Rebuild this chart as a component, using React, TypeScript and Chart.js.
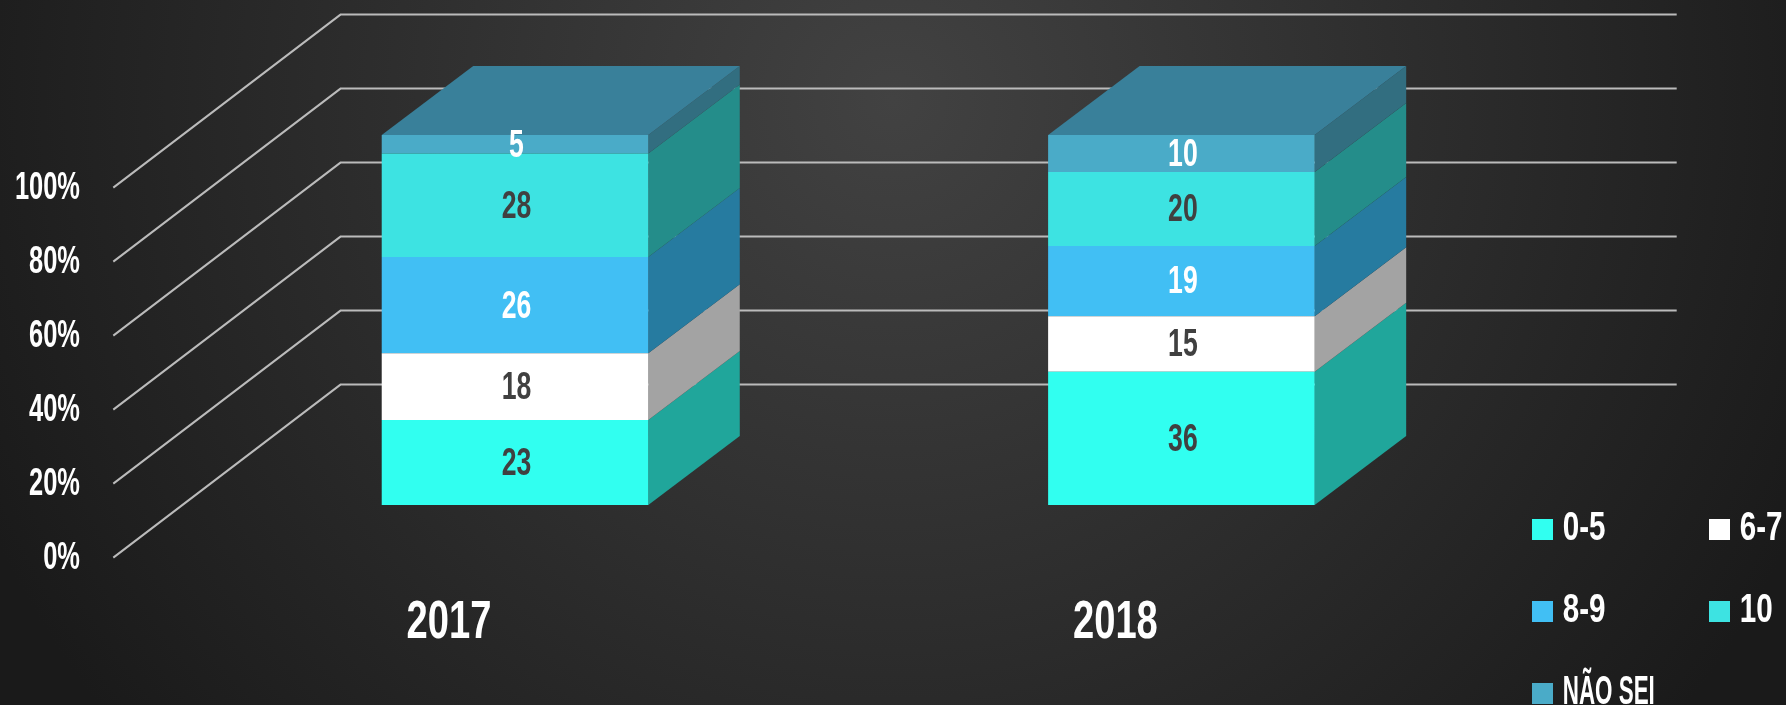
import React, { useEffect, useRef } from "react";
import { Chart, registerables } from "chart.js";

Chart.register(...registerables);

const categories = ["2017", "2018"];
const seriesNames = ["0-5", "6-7", "8-9", "10", "NÃO SEI"];
const values05 = [23, 36];
const values67 = [18, 15];
const values89 = [26, 19];
const values10 = [28, 20];
const valuesNaoSei = [5, 10];
const axisTicks = [0, 20, 40, 60, 80, 100];

const frontColors = ["#31FFF0", "#FFFFFF", "#41BFF4", "#3DE3E2", "#4AABC8"];
const sideColors = ["#20A69B", "#A3A3A3", "#267BA0", "#248D8A", "#326E80"];
const labelColors = ["#404040", "#404040", "#FFFFFF", "#404040", "#FFFFFF"];
const topColor = "#39809A";
const gridColor = "#BBBBBB";
const FONT = '"Liberation Sans", sans-serif';

const W = 1786, H = 705;
const AREA_TOP = 14, AREA_BOTTOM = 557.6, AREA_LEFT = 181.8, AREA_RIGHT = 1514.6;
const PX_PER_UNIT = 3.7;
const BAR_ZERO = 505, WALL_ZERO = 384.4;
const BAR_DX = 91.5, BAR_DY = 69;
const GRID_LEFT = 113.3, GRID_MID = 340.8, GRID_RIGHT = 1676.7;

const legendPos = [
  [1532, 519], [1709, 519],
  [1532, 601], [1709, 601],
  [1532, 683],
];

const poly = (ctx: any, pts: number[][], fill: string) => {
  ctx.beginPath();
  pts.forEach((p, i) => (i ? ctx.lineTo(p[0], p[1]) : ctx.moveTo(p[0], p[1])));
  ctx.closePath();
  ctx.fillStyle = fill;
  ctx.fill();
};

// Draws a condensed bold label: no condensed face is installed, so the glyphs are narrowed.
const narrowText = (
  ctx: any, text: string, x: number, baseline: number,
  size: number, squeeze: number, align: "left" | "right" | "center", color: string,
) => {
  ctx.save();
  ctx.font = `bold ${size}px ${FONT}`;
  ctx.fillStyle = color;
  ctx.textAlign = align;
  ctx.textBaseline = "alphabetic";
  ctx.translate(x, baseline);
  ctx.scale(squeeze, 1);
  ctx.fillText(text, 0, 0);
  ctx.restore();
};

const scene3d = {
  id: "scene3d",
  beforeDatasetsDraw(chart: any) {
    const { ctx, scales } = chart;
    ctx.save();
    ctx.strokeStyle = gridColor;
    ctx.lineWidth = 2;
    ctx.lineJoin = "round";
    axisTicks.forEach((t) => {
      const yf = scales.yFront.getPixelForValue(t);
      const yb = scales.yWall.getPixelForValue(t);
      ctx.beginPath();
      ctx.moveTo(GRID_LEFT, yf);
      ctx.lineTo(GRID_MID, yb);
      ctx.lineTo(GRID_RIGHT, yb);
      ctx.stroke();
    });
    const n = chart.data.datasets.length;
    chart.data.datasets.forEach((_: any, di: number) => {
      chart.getDatasetMeta(di).data.forEach((bar: any) => {
        const r = bar.x + bar.width / 2;
        const l = bar.x - bar.width / 2;
        poly(ctx, [[r, bar.y], [r + BAR_DX, bar.y - BAR_DY], [r + BAR_DX, bar.base - BAR_DY], [r, bar.base]], sideColors[di]);
        if (di === n - 1) {
          poly(ctx, [[l, bar.y], [l + BAR_DX, bar.y - BAR_DY], [r + BAR_DX, bar.y - BAR_DY], [r, bar.y]], topColor);
        }
      });
    });
    ctx.restore();
  },
  afterDatasetsDraw(chart: any) {
    const { ctx, scales } = chart;
    chart.data.datasets.forEach((ds: any, di: number) => {
      chart.getDatasetMeta(di).data.forEach((bar: any, i: number) => {
        narrowText(ctx, String(ds.data[i]), bar.x + 1.5, (bar.y + bar.base) / 2 + 12.3, 38, 0.7, "center", labelColors[di]);
      });
    });
    chart.data.datasets.forEach((ds: any, di: number) => {
      const [x, y] = legendPos[di];
      ctx.fillStyle = frontColors[di];
      ctx.fillRect(x, y, 21, 21);
      const squeeze = ds.label.length > 3 ? 0.56 : 0.74;
      narrowText(ctx, ds.label, x + 30.7, y + 20.5, 40, squeeze, "left", "#FFFFFF");
    });
    scales.yFront.ticks.forEach((tick: any) => {
      narrowText(ctx, tick.label, 80, scales.yFront.getPixelForValue(tick.value) + 11.5, 38, 0.67, "right", "#FFFFFF");
    });
    scales.x.ticks.forEach((tick: any, i: number) => {
      narrowText(ctx, tick.label, scales.x.getPixelForTick(i) - 66, 637.6, 53, 0.72, "center", "#FFFFFF");
    });
  },
};

const seriesValues = [values05, values67, values89, values10, valuesNaoSei];

export default function App() {
  const ref = useRef<HTMLCanvasElement>(null);
  useEffect(() => {
    const height = AREA_BOTTOM - AREA_TOP;
    const chart = new Chart(ref.current as HTMLCanvasElement, {
      type: "bar",
      data: {
        labels: categories,
        datasets: seriesNames.map((label, i) => ({
          label,
          data: seriesValues[i],
          backgroundColor: frontColors[i],
          borderWidth: 0,
          categoryPercentage: 0.5,
          barPercentage: 0.8,
          yAxisID: "y",
        })),
      },
      plugins: [scene3d],
      options: {
        responsive: false,
        animation: false,
        layout: { padding: { top: AREA_TOP, right: W - AREA_RIGHT, left: 0, bottom: 0 } },
        plugins: { legend: { display: false }, title: { display: false }, tooltip: { enabled: false } },
        scales: {
          x: {
            stacked: true,
            grid: { display: false, drawTicks: false },
            border: { display: false },
            afterFit: (s: any) => { s.height = H - AREA_BOTTOM; },
            ticks: { display: false },
          },
          y: {
            stacked: true,
            display: false,
            min: -(AREA_BOTTOM - BAR_ZERO) / PX_PER_UNIT,
            max: (BAR_ZERO - AREA_TOP) / PX_PER_UNIT,
          },
          yWall: {
            display: false,
            min: -(AREA_BOTTOM - WALL_ZERO) / PX_PER_UNIT,
            max: (WALL_ZERO - AREA_TOP) / PX_PER_UNIT,
          },
          yFront: {
            position: "left",
            min: 0,
            max: height / PX_PER_UNIT,
            grid: { display: false, drawTicks: false },
            border: { display: false },
            afterFit: (s: any) => { s.width = AREA_LEFT; },
            afterBuildTicks: (s: any) => { s.ticks = axisTicks.map((value) => ({ value })); },
            ticks: { display: false, callback: (v: any) => `${v}%` },
          },
        },
      },
    } as any);
    return () => chart.destroy();
  }, []);
  return (
    <div
      style={{
        position: "fixed",
        left: 0,
        top: 0,
        width: W,
        height: H,
        background: "radial-gradient(circle 1000px at 893px 100px, #424242 0%, #1A1A1A 100%)",
      }}
    >
      <canvas ref={ref} width={W} height={H} style={{ display: "block" }} />
    </div>
  );
}
